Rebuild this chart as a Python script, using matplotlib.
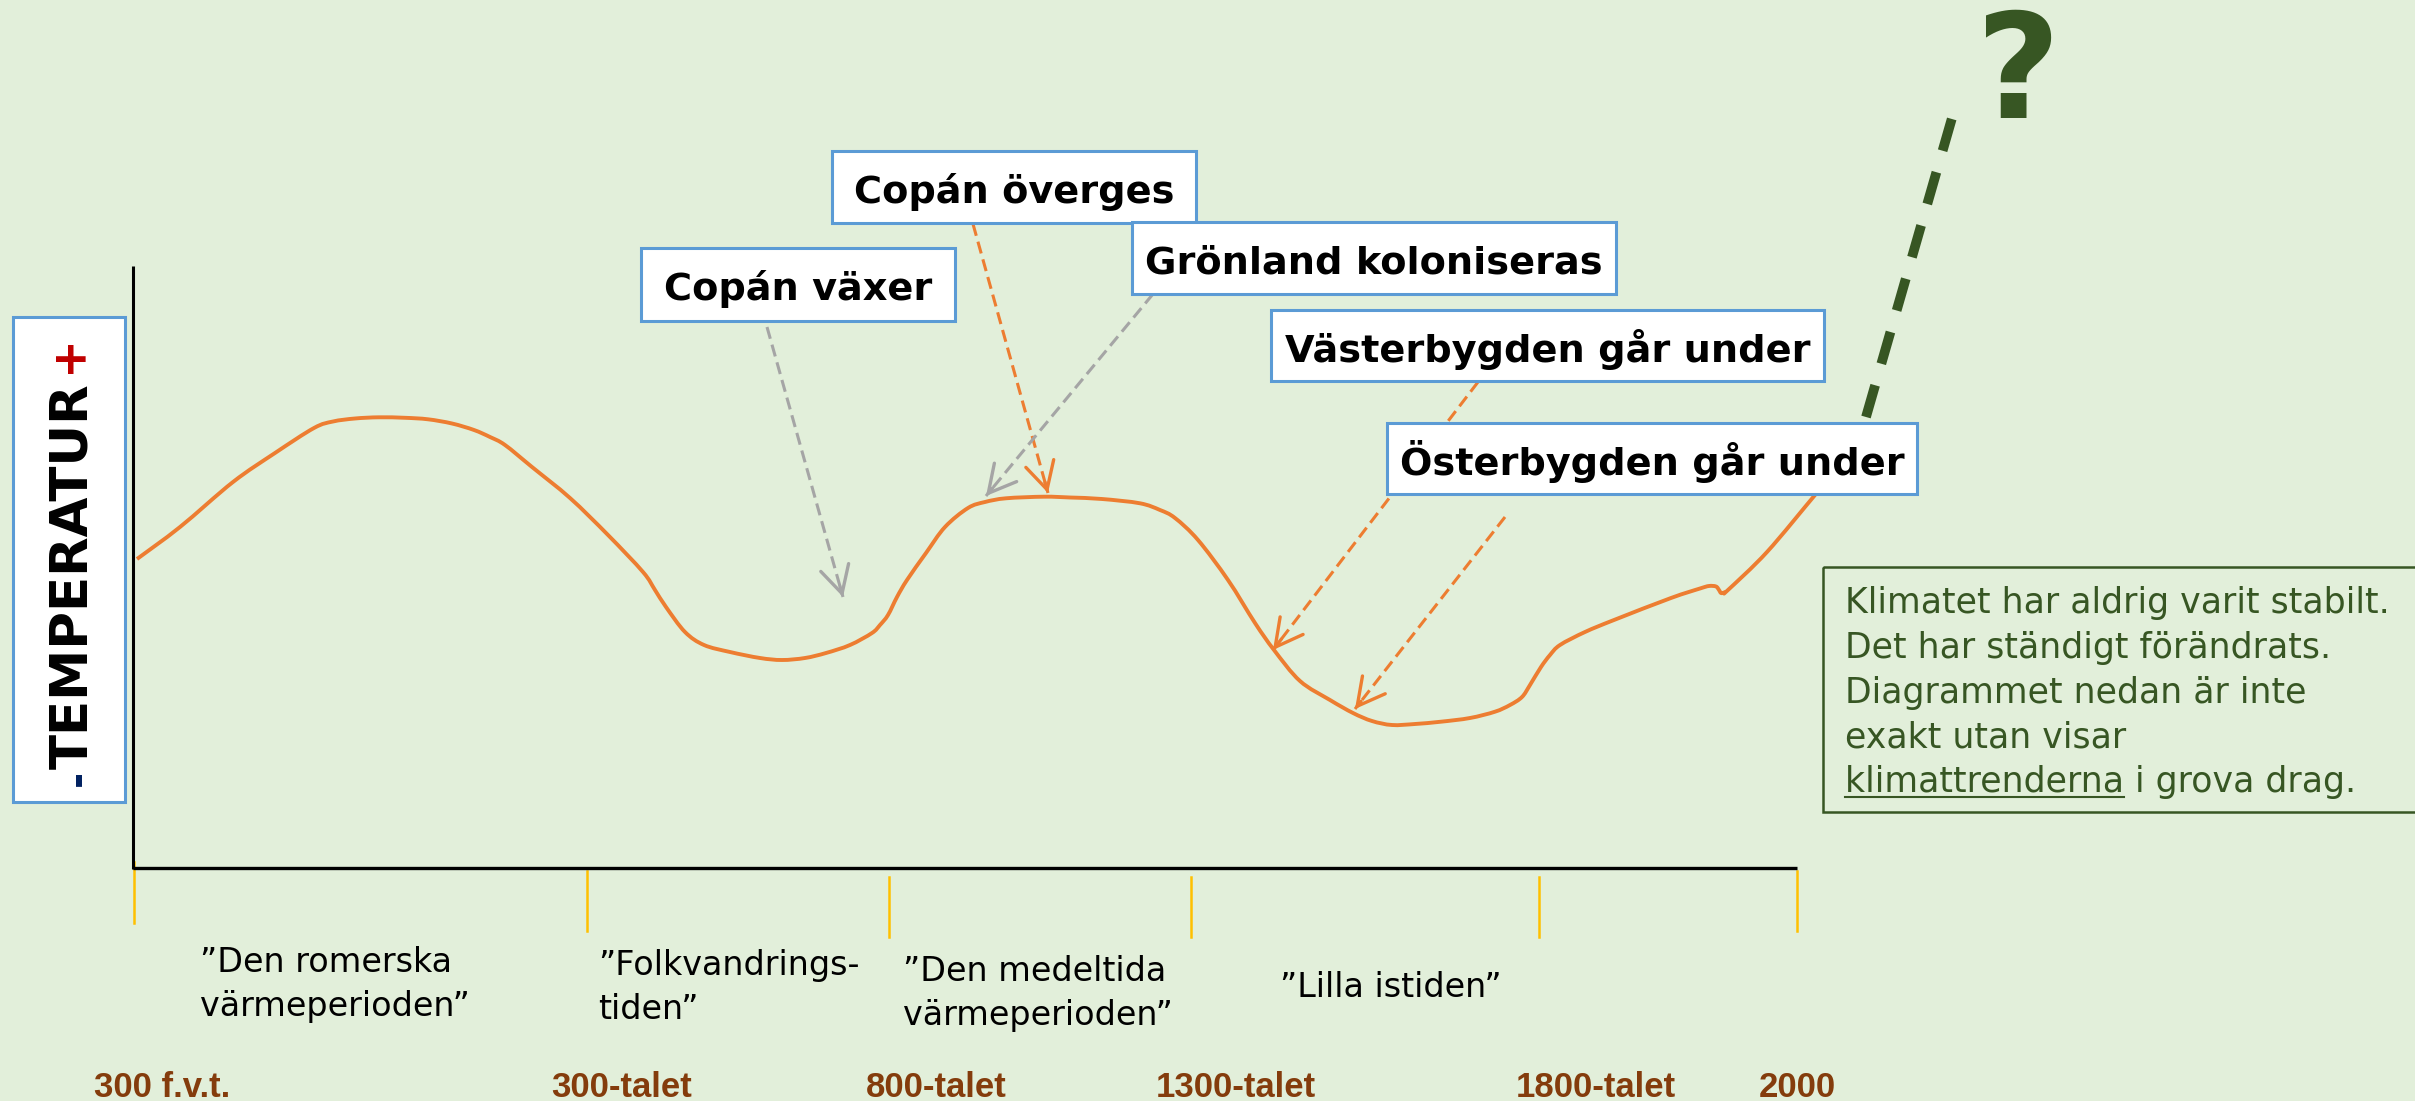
import matplotlib
matplotlib.use("Agg")
import matplotlib.pyplot as plt
from matplotlib.patches import Rectangle, PathPatch
from matplotlib.path import Path

W, H = 2415, 1101
BG = '#E2EFDA'
ORANGE = '#ED7D31'
GRAY = '#A5A5A5'
BLUE = '#5B9BD5'
DKGREEN = '#375623'
BROWN = '#843C0C'
GOLD = '#FFC000'

# ---- data: temperature curve (horizontal time position, vertical temperature position; smaller = warmer)
curve_x = [137, 180, 233, 275, 314, 333, 355, 379, 405, 428,
           452, 474, 490, 505, 532, 570, 608, 643, 655, 666,
           685, 704, 730, 760, 782, 805, 826, 850, 872, 880,
           888, 897, 907, 926, 945, 968, 985, 1006, 1044, 1070,
           1102, 1140, 1160, 1175, 1198, 1228, 1255, 1274, 1300, 1330,
           1353, 1372, 1392, 1415, 1441, 1470, 1495, 1510, 1522, 1530,
           1541, 1550, 1560, 1585, 1614, 1671, 1700, 1709, 1716, 1719,
           1721, 1724, 1728, 1767, 1815, 1830]
curve_temp = [559, 527, 482, 453, 428, 421.5, 418.5, 417.3, 417.8, 419.3,
              423.5, 430, 437, 445, 467, 498, 535, 572, 590, 607,
              632, 645, 652, 658, 660, 658, 653, 645, 633, 625,
              615, 597, 580, 553, 527, 508, 502, 498.3, 496.7, 497.5,
              499, 503.3, 510, 518, 540, 580, 623, 650, 681, 700,
              713, 721, 725, 724, 721.7, 718, 711.7, 705, 697, 685,
              667, 655, 645, 632, 620, 598, 588.5, 586, 586.5, 590,
              593, 592.5, 590, 552, 495, 478]

# future (dashed green) trend
future_x = [1866, 1952]
future_temp = [417, 118]

# time axis ticks and labels
tick_x = [134, 587, 889, 1191, 1539, 1797]
tick_top = [862, 871, 877, 877, 877, 871]
tick_bottom = [923, 931, 937, 937, 937, 931]
tick_labels = ['300 f.v.t.', '300-talet', '800-talet', '1300-talet', '1800-talet', '2000']
tick_label_x = [162, 622, 936, 1236, 1596, 1797]

# period names
period_lines = [['”Den romerska', 'värmeperioden”'],
                ['”Folkvandrings-', 'tiden”'],
                ['”Den medeltida', 'värmeperioden”'],
                ['”Lilla istiden”']]
period_x = [200, 598, 903, 1280]
period_base = [972, 975, 981, 997]

# event boxes: label, box (x0, y0, x1, y1), arrow start, arrow end, arrow colour
events = ['Copán växer', 'Copán överges', 'Grönland koloniseras',
          'Västerbygden går under', 'Österbygden går under']
event_box = [(641, 248, 955, 321), (832, 151, 1196, 223), (1132, 222, 1616, 294),
             (1271, 310, 1824, 381), (1387, 423, 1917, 494)]
arrow_start = [(767, 327), (973, 224), (1153, 294), (1478, 382), (1505, 517)]
arrow_end = [(843, 597), (1048, 493), (986, 496), (1273, 650), (1355, 709)]
arrow_color = [GRAY, ORANGE, GRAY, ORANGE, ORANGE]

note_lines = ['Klimatet har aldrig varit stabilt.',
              'Det har ständigt förändrats.',
              'Diagrammet nedan är inte',
              'exakt utan visar',
              'klimattrenderna i grova drag.']


def smooth_path(xs, ys):
    """Catmull-Rom curve through the given points, as cubic Bezier path."""
    pts = list(zip(xs, ys))
    n = len(pts)
    verts = [pts[0]]
    codes = [Path.MOVETO]
    for i in range(n - 1):
        p0 = pts[i - 1] if i > 0 else pts[i]
        p1 = pts[i]
        p2 = pts[i + 1]
        p3 = pts[i + 2] if i + 2 < n else pts[i + 1]
        c1 = (p1[0] + (p2[0] - p0[0]) / 6, p1[1] + (p2[1] - p0[1]) / 6)
        c2 = (p2[0] - (p3[0] - p1[0]) / 6, p2[1] - (p3[1] - p1[1]) / 6)
        verts += [c1, c2, p2]
        codes += [Path.CURVE4] * 3
    return Path(verts, codes)


# ---- figure
fig = plt.figure(figsize=(W / 100, H / 100), dpi=100, facecolor=BG)
ax = fig.add_axes([0, 0, 1, 1])
ax.set_xlim(0, W)
ax.set_ylim(H, 0)
ax.axis('off')
ax.set_facecolor(BG)

# axes lines
ax.plot([133, 133], [266, 869], color='black', lw=2.2, solid_capstyle='butt', zorder=3)
ax.plot([133, 1797], [868, 868], color='black', lw=2.4, solid_capstyle='butt', zorder=3)
for x, t, b in zip(tick_x, tick_top, tick_bottom):
    ax.plot([x, x], [t, b], color=GOLD, lw=1.8, zorder=2)

# curve
ax.add_patch(PathPatch(smooth_path(curve_x, curve_temp), facecolor='none',
                       edgecolor=ORANGE, lw=2.8, joinstyle='round',
                       capstyle='butt', zorder=4))

# future dashed line
ax.plot(future_x, future_temp, color=DKGREEN, lw=7, linestyle=(0, (3.4, 2.3)),
        dash_capstyle='butt', zorder=4)
ax.text(2018, 118, '?', fontsize=105, fontweight='bold', color=DKGREEN,
        ha='center', va='baseline', zorder=5)

# arrows
for (sx, sy), (ex, ey), c in zip(arrow_start, arrow_end, arrow_color):
    ax.plot([sx, ex], [sy, ey], color=c, lw=2.2, linestyle=(0, (4, 2)),
            dash_capstyle='butt', zorder=5)
    bx = ex - 0.04 * (ex - sx)
    by = ey - 0.04 * (ey - sy)
    ax.annotate('', xy=(ex, ey), xytext=(bx, by),
                arrowprops=dict(arrowstyle='->,head_length=0.75,head_width=0.4',
                                color=c, lw=2.4, mutation_scale=26,
                                shrinkA=0, shrinkB=0, capstyle='round'),
                zorder=5)

# event boxes
for lab, (x0, y0, x1, y1) in zip(events, event_box):
    ax.add_patch(Rectangle((x0, y0), x1 - x0, y1 - y0, facecolor='white',
                           edgecolor=BLUE, lw=2.2, zorder=6))
    ax.text((x0 + x1) / 2, y0 + 52, lab, fontsize=27.5, fontweight='bold',
            color='black', ha='center', va='baseline', zorder=7)

# temperature label box
ax.add_patch(Rectangle((13, 317), 112, 485, facecolor='white', edgecolor=BLUE,
                       lw=2.2, zorder=6))
ax.text(73, 576, 'TEMPERATUR', rotation=90, fontsize=37, fontweight='bold',
        color='black', ha='center', va='center', zorder=7)
ax.text(71, 362, '+', fontsize=34, fontweight='bold', color='#C00000',
        ha='center', va='center', zorder=7)
ax.text(79, 778, '-', rotation=90, fontsize=28, fontweight='bold', color='#002060',
        ha='center', va='center', zorder=7)

# period labels
for lines, x, b in zip(period_lines, period_x, period_base):
    for i, ln in enumerate(lines):
        ax.text(x, b + i * 44, ln, fontsize=24, color='black', ha='left',
                va='baseline', zorder=3)

# time labels
for lab, x in zip(tick_labels, tick_label_x):
    ax.text(x, 1097, lab, fontsize=25, fontweight='bold', color=BROWN,
            family=['Liberation Sans', 'DejaVu Sans'],
            ha='center', va='baseline', zorder=3)

# note box
ax.add_patch(Rectangle((1823, 567), W - 1823 + 20, 245, facecolor='none',
                       edgecolor=DKGREEN, lw=1.8, zorder=3, clip_on=False))
note_base = [613, 658, 703, 747, 792]
for ln, b in zip(note_lines, note_base):
    ax.text(1845, b, ln, fontsize=25, color=DKGREEN, ha='left', va='baseline', zorder=4)

# underline of "klimattrenderna"
fig.canvas.draw()
r = fig.canvas.get_renderer()
tmp = ax.text(1845, 792, 'klimattrenderna', fontsize=25, ha='left', va='baseline')
bb = tmp.get_window_extent(r)
tmp.remove()
inv = ax.transData.inverted()
(ux0, _), (ux1, _) = inv.transform([(bb.x0, bb.y0), (bb.x1, bb.y0)])
ax.plot([ux0, ux1], [797, 797], color=DKGREEN, lw=1.5, zorder=4)

fig.savefig('out.png', dpi=100, facecolor=BG)
